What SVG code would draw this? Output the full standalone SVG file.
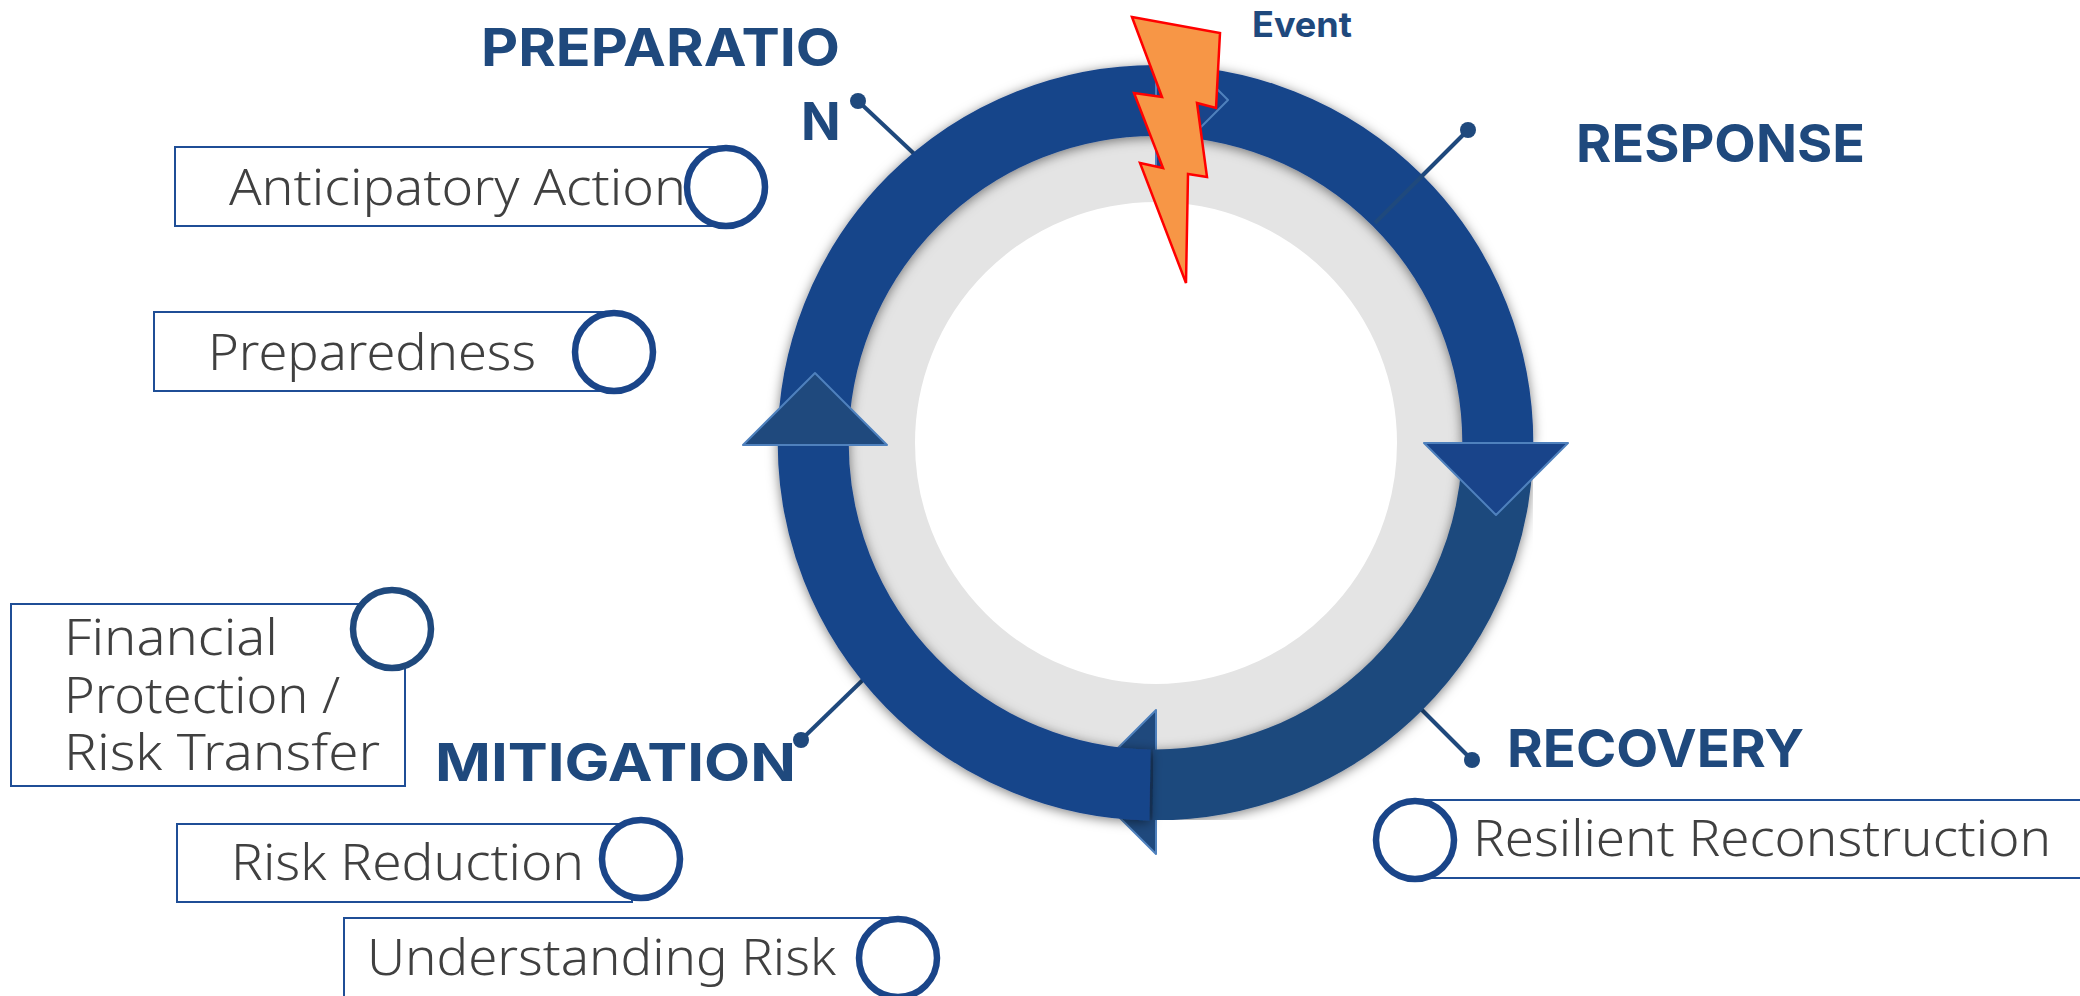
<svg xmlns="http://www.w3.org/2000/svg" width="2080" height="996" viewBox="0 0 2080 996">
<style>
.box{fill:#fff;stroke:#1f4e96;stroke-width:2}
.dot{fill:#fff;stroke:#1a4589;stroke-width:6.500}
.dot2{fill:#fff;stroke:#1f497d;stroke-width:6.500}
.lab{font-family:"Noto Sans","Open Sans",sans-serif;font-size:50px;font-weight:350;fill:#404040}
.hd{font-family:"Inter","Roboto","Liberation Sans",sans-serif;font-size:52px;font-weight:700;fill:#1f497d}
.stem{stroke:#1f497d;stroke-width:4;fill:none}
.tip{fill:#1f497d}
.arr{stroke:#4f81bd;stroke-width:2;stroke-linejoin:round}
</style>
<defs>
<filter id="sh" x="-10%" y="-10%" width="120%" height="120%"><feDropShadow dx="0" dy="2" stdDeviation="6" flood-color="#000" flood-opacity=".5"/></filter>
</defs>
<rect width="2080" height="996" fill="#fff"/>
<g id="connectors">
<line class="stem" x1="858" y1="101" x2="925" y2="164"/><circle class="tip" cx="858" cy="101" r="8"/>
<line class="stem" x1="801" y1="740" x2="870" y2="673"/><circle class="tip" cx="801" cy="740" r="8"/>
<line class="stem" x1="1472" y1="760" x2="1415" y2="703"/><circle class="tip" cx="1472" cy="760" r="8"/>
</g>
<g id="cycle">
<circle cx="1156" cy="443" r="276" fill="none" stroke="#e4e4e4" stroke-width="70"/>
<path id="arrow-recovery" class="arr" fill="#1f497d" d="M1156 710V854L1084 782Z"/>
<path id="arc-recovery" filter="url(#sh)" fill="none" stroke="#1f497d" stroke-width="71" d="M1497.800 442.700A342.300 342.300 0 0 1 1153 785"/>
<path id="arc-main" filter="url(#sh)" fill="none" stroke="#19448a" stroke-width="71" d="M1150 785A342.300 342.300 0 0 1 813.200 442.700A342.300 342.300 0 0 1 1497.800 442.700"/>
<path id="arrow-response" class="arr" fill="#19448a" d="M1424 443H1568L1496 515Z"/>
<path id="arrow-preparation" class="arr" fill="#1f497d" d="M743 445H887L815 373Z"/>
<path id="arrow-event" class="arr" fill="#19448a" d="M1156 28V172L1228 100Z"/>
</g>
<g id="stem-response"><line class="stem" x1="1468" y1="130" x2="1375" y2="223"/><circle class="tip" cx="1468" cy="130" r="8"/></g>
<g id="bolt"><path fill="#f79646" stroke="#f00" stroke-width="2.500" d="M1132 17L1220 33L1216 108L1197 103L1207 177L1188 174L1186 283L1140 163L1163 168L1134 93L1162 97Z"/></g>
<text id="event" x="1252" y="37" font-family="Inter,Roboto,sans-serif" font-size="35" font-weight="700" fill="#1f497d" textLength="100" lengthAdjust="spacingAndGlyphs">Event</text>
<g id="h-prep"><text class="hd" x="481" y="66" textLength="359" lengthAdjust="spacingAndGlyphs">PREPARATIO</text><text class="hd" x="801" y="140">N</text></g>
<text id="h-resp" class="hd" x="1576" y="162" textLength="289" lengthAdjust="spacingAndGlyphs">RESPONSE</text>
<text id="h-rec" class="hd" x="1507" y="767" textLength="297" lengthAdjust="spacingAndGlyphs">RECOVERY</text>
<text id="h-mit" class="hd" x="435" y="781" textLength="361" lengthAdjust="spacingAndGlyphs">MITIGATION</text>
<g id="n-anticipatory"><rect class="box" x="175" y="147" width="550" height="79"/><text class="lab" x="229" y="205" textLength="457" lengthAdjust="spacingAndGlyphs">Anticipatory Action</text><circle class="dot" cx="726" cy="187" r="39"/></g>
<g id="n-preparedness"><rect class="box" x="154" y="312" width="460" height="79"/><text class="lab" x="208" y="370" textLength="328" lengthAdjust="spacingAndGlyphs">Preparedness</text><circle class="dot" cx="614" cy="352" r="39"/></g>
<g id="n-financial"><rect class="box" x="11" y="604" width="394" height="182"/><text class="lab"><tspan x="64" y="655" textLength="214" lengthAdjust="spacingAndGlyphs">Financial</tspan><tspan x="64" y="713" textLength="276" lengthAdjust="spacingAndGlyphs">Protection /</tspan><tspan x="64" y="770" textLength="316" lengthAdjust="spacingAndGlyphs">Risk Transfer</tspan></text><circle class="dot2" cx="392" cy="629" r="39"/></g>
<g id="n-reduction"><rect class="box" x="177" y="824" width="455" height="78"/><text class="lab" x="231" y="880" textLength="353" lengthAdjust="spacingAndGlyphs">Risk Reduction</text><circle class="dot" cx="641" cy="859" r="39"/></g>
<g id="n-understanding"><rect class="box" x="344" y="918" width="554" height="90"/><text class="lab" x="367" y="975" textLength="469" lengthAdjust="spacingAndGlyphs">Understanding Risk</text><circle class="dot" cx="898" cy="958" r="39"/></g>
<g id="n-resilient"><rect class="box" x="1415" y="800" width="680" height="78"/><text class="lab" x="1473" y="856" textLength="578" lengthAdjust="spacingAndGlyphs">Resilient Reconstruction</text><circle class="dot" cx="1415" cy="840" r="39"/></g>
</svg>
